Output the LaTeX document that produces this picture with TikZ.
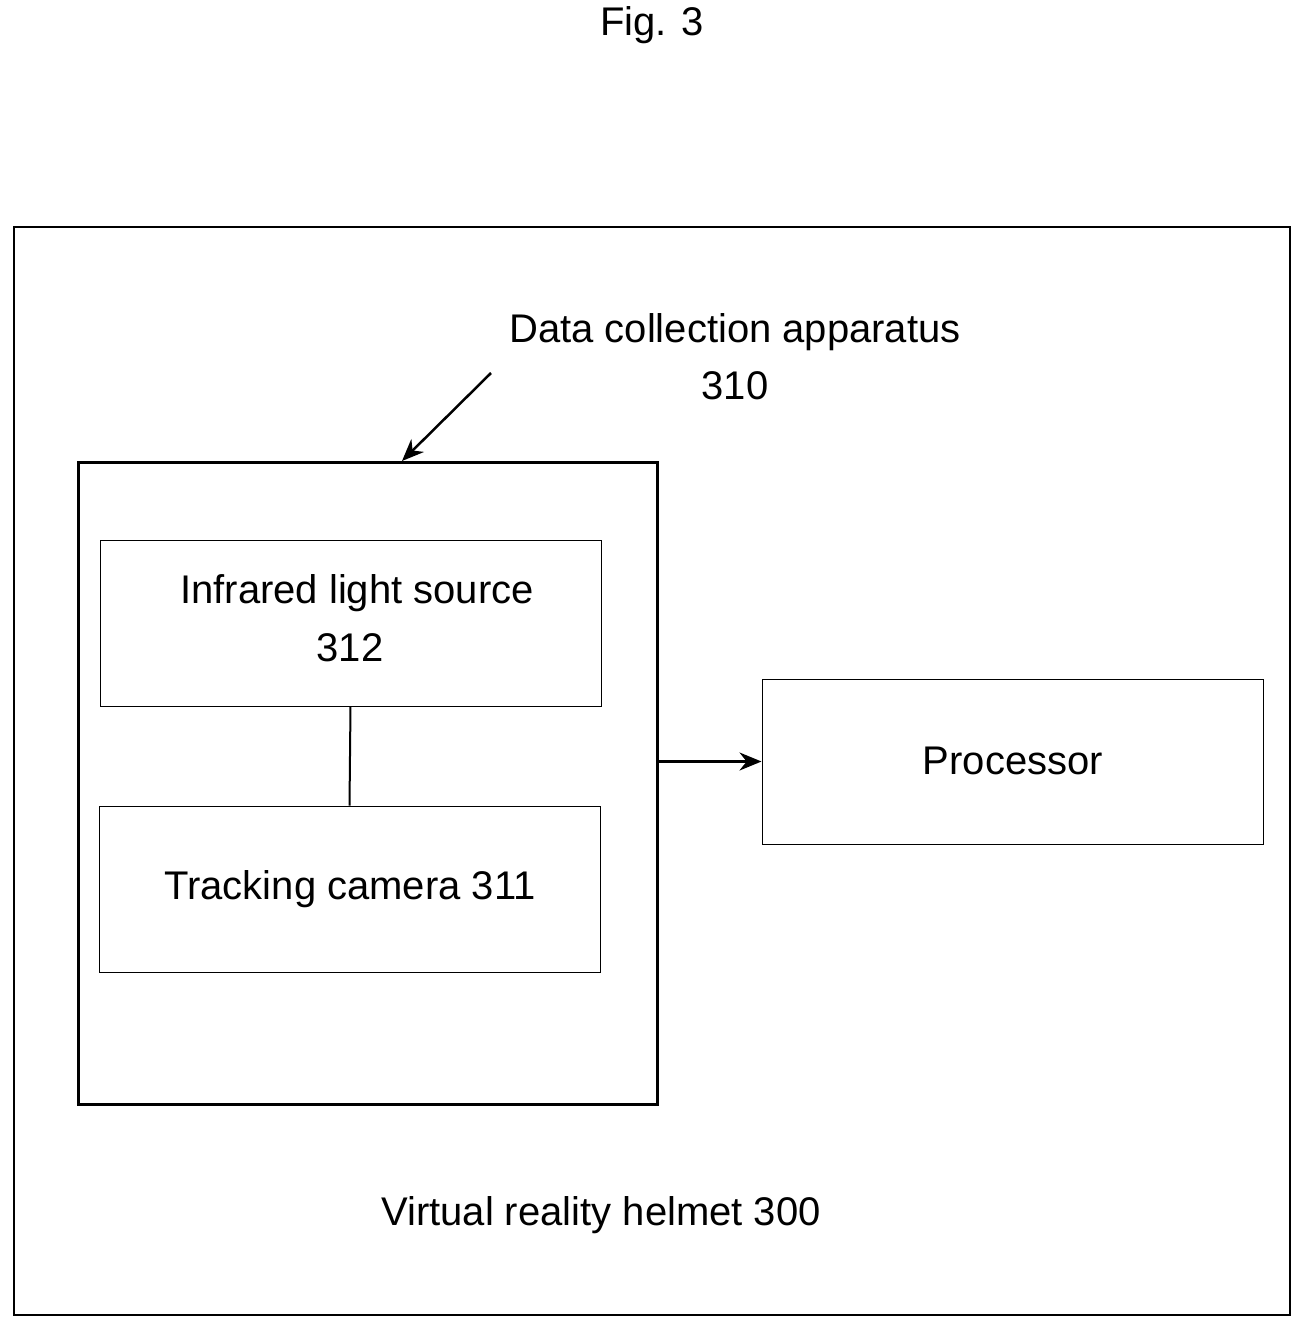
\documentclass[tikz,border=0pt]{standalone}
\usepackage{fontspec}
\setmainfont{Liberation Sans}
\usetikzlibrary{arrows.meta}
\begin{document}
\begin{tikzpicture}[x=1pt,y=-1pt,
  txt/.style={font=\fontsize{40}{46}\selectfont,inner sep=0pt,anchor=center},
  thin box/.style={draw,line width=1pt},
  thick box/.style={draw,line width=3pt},
  arr/.style={line width=2.5pt,-{Stealth[length=22pt,width=18pt]}}]
\useasboundingbox (0,0) rectangle (1313,1338);
\draw[line width=2.5pt] (14,227) rectangle (1290,1315);
\node[thick box,minimum width=579pt,minimum height=642pt,inner sep=0pt] (dca) at (367.5,783) {};
\node[thin box,minimum width=501pt,minimum height=166pt,inner sep=0pt] (ir) at (350.5,623) {};
\node[thin box,minimum width=501pt,minimum height=166pt,inner sep=0pt] (tc) at (349.5,889) {};
\node[thin box,minimum width=501pt,minimum height=165pt,inner sep=0pt] (proc) at (1012.5,761.5) {};
\node[txt] (fig) at (652,25) {Fig. 3};
\node[txt] (l1) at (735,332) {Data collection apparatus};
\node[txt] (l2) at (735,386) {310};
\node[txt] (t1) at (357,593) {Infrared light source};
\node[txt] (t2) at (350,648) {312};
\node[txt] (t3) at (350,889) {Tracking camera 311};
\node[txt] (t4) at (1013,761) {Processor};
\node[txt] (t5) at (601,1215) {Virtual reality helmet 300};
\coordinate (s) at (491,373);
\draw[line width=2pt] (ir.south) -- (tc.north);
\draw[arr] (dca.east |- proc.west) -- (proc.west);
\draw[arr] (s) -- (402,461);
\end{tikzpicture}
\end{document}
